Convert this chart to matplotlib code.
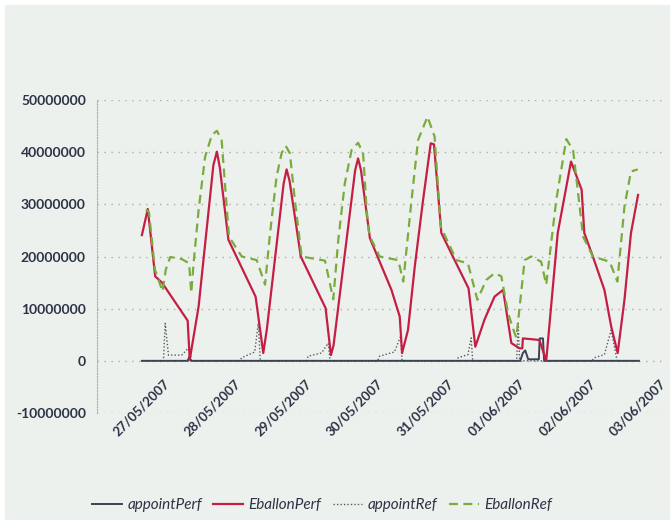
import matplotlib
matplotlib.use("Agg")
import matplotlib.pyplot as plt
import matplotlib.dates as mdates
from matplotlib.patches import Rectangle
from matplotlib.ticker import FuncFormatter
import pandas as pd

start = pd.Timestamp("2007-05-27")

# hours since 27/05/2007 00:00, values in millions
eballon_perf_h = [0, 2.0, 4.5, 6.8, 15.5, 16.2, 19.2, 24.2, 25.4, 26.4, 29.3, 38.5, 41.1,
                  42.3, 48.0, 49.0, 50.0, 53.8, 62.2, 64.0, 64.9, 72.2, 73.2, 74.2, 77.2,
                  84.5, 87.3, 88.1, 90.1, 92.4, 95.2, 97.8, 98.9, 101.4, 105.9, 110.6,
                  112.9, 116.0, 119.4, 122.3, 125.1, 127.9, 128.8, 129.0, 134.6, 136.9,
                  140.8, 145.3, 148.9, 149.8, 152.7, 156.6, 158.9, 161.1, 163.4, 165.6, 168.0]
eballon_perf = [24.1, 29.1, 16.2, 15.0, 7.7, 0.2, 10.4, 37.5, 40.1, 37.0, 23.2, 12.3, 1.5,
                6.0, 34.0, 36.7, 34.5, 20.0, 10.1, 1.1, 3.0, 36.5, 38.8, 36.5, 23.5,
                13.6, 8.5, 1.5, 5.9, 18.1, 30.8, 41.7, 41.5, 24.5, 19.3, 13.9,
                2.7, 7.9, 12.3, 13.6, 3.4, 2.4, 2.4, 4.3, 4.0, 0.0,
                24.5, 38.2, 32.8, 24.5, 20.0, 13.6, 6.6, 1.5, 11.7, 24.5, 31.8]

eballon_ref_h = [1.4, 2.4, 4.4, 7.0, 8.1, 9.6, 13.5, 16.0, 16.7, 17.6, 19.2, 21.4, 23.7,
                 25.4, 27.0, 28.7, 29.5, 33.8, 38.9, 41.7, 43.4, 45.6, 47.3, 48.7, 50.1,
                 51.8, 54.1, 62.0, 64.8, 66.5, 68.7, 71.0, 73.2, 74.9, 76.1, 77.0, 80.5,
                 86.8, 88.5, 91.3, 93.5, 96.7, 99.1, 101.2, 106.5, 110.4, 113.6, 116.6,
                 119.4, 121.7, 124.0, 126.2, 126.8, 129.6, 131.8, 135.2, 136.9, 140.3,
                 143.7, 146.0, 149.4, 152.7, 158.4, 161.0, 163.4, 165.6, 167.9]
eballon_ref = [29.0, 28.5, 17.5, 13.3, 17.5, 19.9, 19.5, 18.7, 13.0, 19.3, 28.9, 39.1, 43.3,
               44.1, 42.3, 29.6, 23.8, 20.0, 19.3, 14.6, 24.5, 35.3, 39.8, 41.2, 39.8,
               30.8, 20.0, 19.2, 11.8, 23.2, 34.0, 40.4, 41.8, 39.8, 28.9, 24.1, 20.0,
               19.3, 15.2, 30.8, 42.3, 46.8, 43.0, 25.7, 19.3, 18.7, 11.7, 15.5,
               16.8, 16.2, 9.1, 5.3, 4.5, 19.3, 20.0, 19.0, 14.6, 30.8,
               42.5, 40.4, 23.8, 20.0, 19.0, 15.2, 29.6, 36.3, 36.7]

appoint_ref_h = [0, 7.3, 7.9, 9.0, 13.5, 16.2, 16.7, 33.1, 33.8, 38.2, 39.4, 40.1, 55.8,
                 56.3, 60.8, 63.1, 63.7, 79.8, 80.5, 85.5, 87.6, 88.1, 106.5, 107.1,
                 110.4, 111.5, 112.0, 126.9, 127.4, 127.9, 152.4, 153.2, 156.6, 158.9,
                 160.9, 168.3]
appoint_ref = [0, 0, 7.2, 1.1, 1.1, 2.7, 0, 0, 0.6, 1.7, 7.2, 0, 0,
               0.9, 1.5, 3.4, 0, 0, 0.9, 1.7, 4.7, 0, 0, 0.6,
               1.2, 4.4, 0, 0, 7.5, 0, 0, 0.6, 1.2, 5.9,
               0, 0]

appoint_perf_h = [0, 15.5, 16.1, 16.6, 128.1, 129.0, 129.8, 130.8, 134.4, 134.7, 135.8,
                  136.2, 168.3]
appoint_perf = [0, 0, 0.8, 0, 0, 1.5, 2.0, 0.3, 0.3, 4.3, 4.3, 0, 0]


def as_dates(hours):
    return start + pd.to_timedelta(hours, unit="h")


def as_units(vals):
    return [v * 1e6 for v in vals]


bg = "#edf1ed"
ink = "#2b3346"

fig = plt.figure(figsize=(6.7, 5.2), dpi=100, facecolor="white")
fig.patches.append(Rectangle((5 / 670, 0), 1, 1 - 5 / 520, transform=fig.transFigure,
                             color=bg, zorder=-10))
ax = fig.add_axes([97 / 670, 1 - 413 / 520, 570 / 670, 313 / 520])
ax.set_facecolor("none")

ax.plot(as_dates(appoint_perf_h), as_units(appoint_perf), color="#3a4356", lw=1.4,
        label="appointPerf", zorder=4)
ax.plot(as_dates(eballon_perf_h), as_units(eballon_perf), color="#c41e45", lw=1.6,
        label="EballonPerf", zorder=5)
ax.plot(as_dates(appoint_ref_h), as_units(appoint_ref), color="#555a60", lw=1.0,
        linestyle=(0, (1, 1.5)), label="appointRef", zorder=3)
ax.plot(as_dates(eballon_ref_h), as_units(eballon_ref), color="#7aab3e", lw=1.6,
        linestyle=(0, (4, 2.5)), label="EballonRef", zorder=6)

ax.set_ylim(-10e6, 50e6)
ax.set_yticks(range(-10000000, 50000001, 10000000))
ax.yaxis.set_major_formatter(FuncFormatter(lambda v, p: f"{v:.0f}"))
ax.set_xlim(start - pd.Timedelta(hours=15.2), start + pd.Timedelta(hours=177.8))
ax.xaxis.set_major_locator(mdates.DayLocator())
ax.xaxis.set_major_formatter(mdates.DateFormatter("%d/%m/%Y"))

ax.yaxis.grid(True, linestyle=(0, (1, 4)), color="#a9aea9", lw=1.0)
for s in ["top", "right", "bottom"]:
    ax.spines[s].set_visible(False)
ax.spines["bottom"].set_position(("data", 0))
ax.spines["left"].set_linestyle((0, (1, 1.5)))
ax.spines["left"].set_color("#a9aea9")

ax.tick_params(axis="y", length=0, pad=8, labelcolor=ink)
ax.tick_params(axis="x", length=0, pad=12, labelcolor=ink)
for lab in ax.get_yticklabels():
    lab.set_fontfamily("Lato")
    lab.set_fontweight("bold")
    lab.set_fontsize(10)
for lab in ax.get_xticklabels():
    lab.set_fontfamily("Lato")
    lab.set_fontweight("bold")
    lab.set_fontsize(9.5)
    lab.set_rotation(45)
    lab.set_ha("center")

fig.legend(loc="center left", bbox_to_anchor=(92 / 670, 1 - 505 / 520), ncol=4,
           frameon=False, prop={"family": "Lato", "style": "italic", "size": 11},
           labelcolor=ink, handlelength=1.95, handletextpad=0.35, columnspacing=0.75,
           borderaxespad=0, borderpad=0)

fig.savefig("out.png", dpi=100, facecolor=fig.get_facecolor())
